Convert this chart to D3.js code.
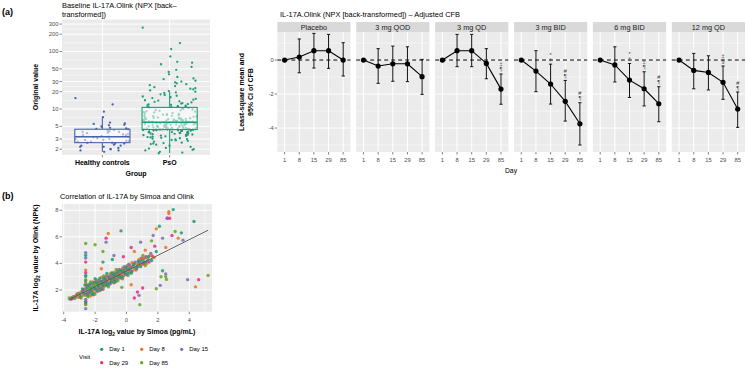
<!DOCTYPE html>
<html>
<head>
<meta charset="utf-8">
<script src="https://cdn.jsdelivr.net/npm/d3@7"></script>
<style>
  body { margin: 0; background: #fff; }
  svg { font-family: "Liberation Sans", Arial, sans-serif; }
  svg text { fill: #000; }
</style>
</head>
<body>
<div id="root"></div>
<script>
// ---- panel (a) left: baseline values ----
var groupsA = ['Healthy controls', 'PsO'];
var ticksA = [2, 3, 5, 10, 20, 30, 50, 100, 200, 300];
var healthyValues = [15.5, 12.0, 9.0, 7.2, 5.8, 5.6, 5.5, 5.3, 5.2, 5.0, 4.9, 4.7, 4.6, 4.5, 4.4, 4.3,
  4.2, 4.1, 4.0, 4.0, 3.9, 3.8, 3.7, 3.6, 3.5, 3.5, 3.4, 3.3, 3.3, 3.2, 3.2, 3.1, 3.0, 3.0, 2.9,
  2.9, 2.8, 2.8, 2.7, 2.7, 2.6, 2.6, 2.5, 2.5, 2.4, 2.3, 2.3, 2.2, 2.2, 2.1, 2.0, 2.0, 1.9, 1.9, 1.8];
var psoValues = [260, 140, 110, 82, 66, 64, 60, 54, 48, 44, 40, 36, 34, 33, 31, 30, 29, 28, 27, 26,
  25, 24, 23, 22.5, 22, 21, 20.5, 20, 19.5, 19, 18, 17.5, 17, 16.5, 16, 15.5, 15, 14.5, 14.2, 14,
  13.6, 13.3, 13, 12.7, 12.4, 12.2, 12, 11.8, 11.6, 11.4, 11.2, 11.1, 11, 10.9, 10.8,
  10.6, 10.4, 10.2, 10, 9.8, 9.6, 9.5, 9.3, 9.1, 9, 8.8, 8.7, 8.5, 8.4, 8.2, 8.1, 8, 7.9, 7.8, 7.7,
  7.6, 7.5, 7.4, 7.3, 7.2, 7.1, 7, 6.95, 6.9, 6.85, 6.8, 6.75, 6.7, 6.65, 6.6, 6.55, 6.5, 6.45, 6.4,
  6.35, 6.3, 6.3, 6.25, 6.2, 6.2, 6.15, 6.1, 6.1, 6.05, 6.0, 6.0, 5.95, 5.95, 5.92, 5.9,
  5.85, 5.8, 5.8, 5.75, 5.7, 5.7, 5.65, 5.6, 5.6, 5.55, 5.5, 5.5, 5.45, 5.4, 5.4, 5.35, 5.3, 5.3,
  5.25, 5.2, 5.2, 5.15, 5.1, 5.1, 5.05, 5.0, 5.0, 4.95, 4.9, 4.9, 4.85, 4.8, 4.8, 4.75, 4.7, 4.7,
  4.65, 4.6, 4.6, 4.58, 4.55, 4.55, 4.52, 4.5, 4.5, 4.48, 4.46, 4.45, 4.44, 4.43, 4.42, 4.42, 4.41,
  4.41, 4.4, 4.38, 4.35, 4.32, 4.3, 4.27, 4.25, 4.22, 4.2, 4.15, 4.1, 4.05, 4.0, 3.97, 3.93, 3.9,
  3.85, 3.8, 3.78, 3.75, 3.7, 3.65, 3.6, 3.57, 3.55, 3.5, 3.45, 3.4, 3.35, 3.3, 3.25, 3.2, 3.15,
  3.1, 3.05, 3.0, 2.95, 2.9, 2.85, 2.8, 2.7, 2.6, 2.55, 2.5, 2.45, 2.4, 2.3, 2.2, 2.1, 2.05, 2.0,
  1.95, 1.9, 1.8, 1.75, 1.7];
var groupColors = ['#4561b0', '#1b9e77'];

// ---- panel (a) right: adjusted change from baseline ----
var facets = ['Placebo', '3 mg QOD', '3 mg QD', '3 mg BID', '6 mg BID', '12 mg QD'];
var days = ['1', '8', '15', '29', '85'];
var ticksF = [0, -2, -4];
var lsMeans = [
  [0, 0.18, 0.55, 0.55, 0],
  [0, -0.35, -0.22, -0.22, -0.98],
  [0, 0.55, 0.55, -0.2, -1.71],
  [0, -0.65, -1.41, -2.43, -3.75],
  [0, -0.29, -1.18, -1.69, -2.57],
  [0, -0.61, -0.73, -1.31, -2.88]
];
var ciLower = [
  [0, -0.75, -0.47, -0.49, -0.94],
  [0, -1.37, -1.25, -1.27, -2.02],
  [0, -0.39, -0.39, -1.1, -2.6],
  [0, -1.86, -2.59, -3.59, -5.0],
  [0, -1.29, -2.2, -2.7, -3.63],
  [0, -1.69, -1.76, -2.31, -3.96]
];
var ciUpper = [
  [0, 1.24, 1.57, 1.51, 1.02],
  [0, 0.67, 0.82, 0.78, 0.04],
  [0, 1.51, 1.51, 0.67, -0.82],
  [0, 0.55, -0.24, -1.2, -2.51],
  [0, 0.78, -0.2, -0.69, -1.57],
  [0, 0.39, 0.25, -0.35, -1.88]
];
var sigMarks = [
  ['', '', '', '', ''],
  ['', '', '', '', ''],
  ['', '', '', '', '‡¶'],
  ['', '', '*†', '#¶', '#¶'],
  ['', '', '*†', '‡¶', '#¶'],
  ['', '', '', '‡§', '#¶']
];

// ---- panel (b): Simoa vs Olink ----
var visits = ['Day 1', 'Day 8', 'Day 15', 'Day 29', 'Day 85'];
var visitColors = ['#1b9e77', '#e8731c', '#7570b3', '#e7298a', '#66a61e'];
var ticksBx = [-4, -2, 0, 2, 4];
var ticksBy = [2, 4, 6, 8];
var day1Points = [[-3.5,1.42],[-3.3,1.38],[-3.0,1.76],[-2.9,1.52],[-2.8,2.08],[-2.7,1.74],[-2.65,2.37],
  [-2.6,1.05],[-2.6,2.75],[-2.6,3.1],[-2.6,4.6],[-2.5,2.16],[-2.45,1.63],[-2.4,2.41],[-2.3,1.87],
  [-2.25,2.2],[-2.2,1.68],[-2.1,2.54],[-2.05,2.12],[-2.0,2.85],[-1.9,2.01],[-1.85,2.54],[-1.8,2.32],
  [-1.7,2.88],[-1.6,2.09],[-1.55,2.67],[-1.5,2.35],[-1.4,2.9],[-1.3,2.56],[-1.25,3.24],[-1.2,2.37],
  [-1.1,2.88],[-1.0,2.59],[-0.9,3.25],[-0.8,2.81],[-0.75,3.19],[-0.7,2.62],[-0.6,3.38],[-0.5,3.04],
  [-0.4,3.44],[-0.3,2.95],[-0.2,3.46],[-0.1,3.32],[0.0,3.73],[0.1,3.24],[0.2,3.65],[0.3,3.26],
  [0.45,3.9],[0.6,3.68],[0.75,4.17],[0.9,3.76],[1.05,4.2],[1.2,4.09],[1.4,4.51],[1.6,4.22],
  [2.98,8.05],[4.3,7.15],[2.1,6.8],[3.5,6.3],[-0.35,6.45],[1.9,4.9],[2.3,3.45],[-1.5,4.1],[-0.9,4.3]];
var day8Points = [[-3.4,1.5],[-3.1,1.45],[-2.85,1.9],[-2.75,1.6],[-2.6,0.95],[-2.6,2.45],[-2.6,3.5],
  [-2.55,2.2],[-2.5,1.7],[-2.35,2.3],[-2.3,1.55],[-2.2,2.05],[-2.15,2.6],[-2.05,1.8],[-1.95,2.4],
  [-1.9,2.75],[-1.8,2.0],[-1.75,2.55],[-1.65,2.3],[-1.6,2.95],[-1.5,2.15],[-1.45,2.7],[-1.35,2.45],
  [-1.3,3.05],[-1.2,2.6],[-1.15,2.85],[-1.05,3.2],[-0.95,2.7],[-0.9,3.0],[-0.8,3.35],[-0.7,2.85],
  [-0.65,3.15],[-0.55,3.5],[-0.45,3.0],[-0.35,3.3],[-0.25,3.65],[-0.15,3.15],[-0.05,3.45],[0.05,3.85],
  [0.15,3.35],[0.25,3.7],[0.35,4.05],[0.5,3.55],[0.65,3.95],[0.8,4.3],[0.95,3.9],[1.1,4.35],[1.3,4.0],
  [1.5,4.6],[1.75,4.45],[2.7,7.9],[2.7,7.75],[1.9,6.6],[-1.16,6.25],[3.3,5.9],[2.5,5.2],[4.4,2.24],
  [0.3,2.4],[-1.6,3.6],[1.2,5.0],[0.5,4.9]];
var day15Points = [[-3.55,1.3],[-3.25,1.55],[-2.95,1.6],[-2.8,1.85],[-2.6,0.6],[-2.6,1.3],[-2.6,2.1],
  [-2.6,4.4],[-2.6,4.8],[-2.55,1.75],[-2.45,2.25],[-2.35,1.95],[-2.25,2.5],[-2.15,1.75],[-2.1,2.3],
  [-2.0,2.05],[-1.9,2.6],[-1.8,2.2],[-1.7,2.7],[-1.65,2.0],[-1.55,2.45],[-1.45,2.85],[-1.4,2.3],
  [-1.3,2.75],[-1.2,3.0],[-1.1,2.5],[-1.0,3.05],[-0.95,2.8],[-0.85,3.1],[-0.75,2.7],[-0.65,3.25],
  [-0.55,2.95],[-0.45,3.55],[-0.35,3.1],[-0.25,3.35],[-0.15,3.75],[-0.05,3.2],[0.05,3.55],[0.15,3.95],
  [0.3,3.45],[0.4,3.8],[0.55,4.1],[0.7,3.75],[0.85,4.15],[1.0,4.0],[1.15,4.4],[1.35,4.2],[1.55,4.75],
  [2.6,7.4],[3.6,5.75],[2.5,3.2],[3.9,2.78],[2.15,2.35],[0.8,1.6],[-1.3,5.6],[1.7,6.1],[-0.8,4.6],
  [0.9,5.6],[2.3,5.9]];
var day29Points = [[-3.45,1.35],[-3.15,1.7],[-2.95,1.45],[-2.75,2.0],[-2.6,1.15],[-2.6,1.7],[-2.6,3.3],
  [-2.6,4.1],[-2.5,2.35],[-2.4,1.8],[-2.3,2.45],[-2.2,1.95],[-2.1,1.65],[-2.0,2.6],[-1.95,2.1],
  [-1.85,1.9],[-1.75,2.45],[-1.7,2.15],[-1.6,2.65],[-1.5,2.05],[-1.4,2.5],[-1.35,2.8],[-1.25,2.35],
  [-1.15,3.0],[-1.05,2.45],[-1.0,2.75],[-0.9,3.05],[-0.8,2.55],[-0.7,3.1],[-0.6,2.8],[-0.5,3.3],
  [-0.4,2.9],[-0.3,3.5],[-0.2,3.05],[-0.1,3.6],[0.0,3.15],[0.1,3.5],[0.2,3.85],[0.35,3.4],[0.5,3.95],
  [0.65,3.6],[0.8,4.05],[0.95,4.4],[1.1,3.95],[1.25,4.5],[1.45,4.1],[1.65,4.55],
  [2.6,7.4],[2.75,7.4],[-1.3,5.9],[4.6,2.78],[1.03,2.15],[0.5,1.4],[0.7,1.85],[2.9,6.1],[1.8,5.3],
  [-0.2,4.5],[0.3,5.2]];
var day85Points = [[-3.65,1.4],[-3.35,1.5],[-3.05,1.75],[-2.9,1.4],[-2.6,0.9],[-2.6,1.6],[-2.6,2.6],
  [-2.6,3.0],[-2.6,5.5],[-2.55,1.95],[-2.45,1.5],[-2.4,2.15],[-2.3,2.6],[-2.2,1.85],[-2.1,2.35],
  [-2.0,1.7],[-1.9,2.45],[-1.8,2.7],[-1.75,1.95],[-1.65,2.5],[-1.55,2.25],[-1.45,3.05],[-1.35,2.4],
  [-1.25,2.65],[-1.15,2.25],[-1.05,2.9],[-0.95,3.3],[-0.85,2.6],[-0.75,2.95],[-0.65,3.55],[-0.55,2.7],
  [-0.45,3.2],[-0.35,3.45],[-0.25,2.85],[-0.15,3.3],[-0.05,3.6],[0.1,3.1],[0.2,3.4],[0.35,3.7],
  [0.5,4.0],[0.6,3.5],[0.75,3.85],[0.9,4.25],[1.05,4.6],[1.2,3.85],[1.35,4.4],
  [5.2,3.1],[2.2,3.0],[2.55,2.8],[1.9,2.1],[0.85,0.9],[-2.0,5.4],[-1.5,4.9],[3.1,6.4],[1.6,5.7],
  [-0.3,2.2],[2.5,3.0]];
var visitPoints = [day1Points, day8Points, day15Points, day29Points, day85Points];
var fitIntercept = 3.43, fitSlope = 0.59, fitRange = [-3.7, 5.2];

var svg = d3.select('#root')
  .append('svg')
    .attr('width', 746)
    .attr('height', 370);

svg.append('rect').attr('width', 746).attr('height', 370).attr('fill', '#fff');

var TICK_COL = '#4d4d4d';

// grey panel + white grid lines
var drawPanel = (x0, y0, w, h, vMajor, vMinor, hMajor, hMinor) => {
  var g = svg.append('g');
  g.append('rect').attr('x', x0).attr('y', y0).attr('width', w).attr('height', h).attr('fill', '#ebebeb');
  var line = (list, sw, vertical) => {
    list.forEach(p => {
      if (vertical) {
        g.append('line').attr('x1', p).attr('x2', p).attr('y1', y0).attr('y2', y0 + h)
          .attr('stroke', '#fff').attr('stroke-width', sw);
      } else {
        g.append('line').attr('x1', x0).attr('x2', x0 + w).attr('y1', p).attr('y2', p)
          .attr('stroke', '#fff').attr('stroke-width', sw);
      }
    });
  };
  line(hMinor, 0.5, false);
  line(vMinor, 0.5, true);
  line(hMajor, 1, false);
  line(vMajor, 1, true);
  return g;
};

var yTicks = (scale, ticks, x, labels) => {
  ticks.forEach((t, i) => {
    svg.append('line').attr('x1', x - 2.5).attr('x2', x).attr('y1', scale(t)).attr('y2', scale(t))
      .attr('stroke', '#333').attr('stroke-width', 0.6);
    svg.append('text').attr('x', x - 3.5).attr('y', scale(t) + 2).attr('text-anchor', 'end')
      .attr('font-size', 5.8).style('fill', TICK_COL).text(labels ? labels[i] : t);
  });
};

// ================= (a) left =================
svg.append('text').attr('x', 2).attr('y', 15).attr('font-size', 9).attr('font-weight', 'bold').text('(a)');
svg.append('text').attr('x', 62).attr('y', 8).attr('font-size', 7.4).text('Baseline IL-17A.Olink (NPX [back–');
svg.append('text').attr('x', 62).attr('y', 17).attr('font-size', 7.4).text('transformed])');

var aTop = 19.5, aBottom = 155;
var yA = d3.scaleLog().domain([1.585, 360]).range([aBottom, aTop]);
var xA = d3.scalePoint().domain(groupsA).range([62, 210]).padding(0.6);
var stepA = xA.step();

var minorA = [];
for (var i = 0; i < ticksA.length - 1; i++) minorA.push(yA(Math.sqrt(ticksA[i] * ticksA[i + 1])));
drawPanel(62, aTop, 148, aBottom - aTop, groupsA.map(xA), [], ticksA.map(yA), minorA);
yTicks(yA, ticksA, 62);

[healthyValues, psoValues].forEach((vals, gi) => {
  var cx = xA(groupsA[gi]);
  var col = groupColors[gi];
  var sorted = vals.slice().sort(d3.ascending);
  var q1 = d3.quantile(sorted, 0.25), med = d3.quantile(sorted, 0.5), q3 = d3.quantile(sorted, 0.75);
  var iqr = q3 - q1;
  var hi = d3.max(sorted.filter(v => v <= q3 + 1.5 * iqr));
  var lo = d3.min(sorted.filter(v => v >= q1 - 1.5 * iqr));
  var bw = stepA * 0.82;
  var g = svg.append('g');
  g.append('line').attr('x1', cx).attr('x2', cx).attr('y1', yA(hi)).attr('y2', yA(q3))
    .attr('stroke', col).attr('stroke-width', 1.1);
  g.append('line').attr('x1', cx).attr('x2', cx).attr('y1', yA(lo)).attr('y2', yA(q1))
    .attr('stroke', col).attr('stroke-width', 1.1);
  // jittered points
  g.selectAll('circle').data(vals).enter().append('circle')
    .attr('cx', (d, k) => cx + (((k * 0.618034 + k * k * 0.0731) % 1) - 0.5) * 0.8 * stepA)
    .attr('cy', d => yA(d))
    .attr('r', 1.15)
    .attr('fill', col);
  g.append('rect').attr('x', cx - bw / 2).attr('y', yA(q3)).attr('width', bw).attr('height', yA(q1) - yA(q3))
    .attr('fill', '#fff').attr('fill-opacity', 0.55).attr('stroke', col).attr('stroke-width', 1.1);
  g.append('line').attr('x1', cx - bw / 2).attr('x2', cx + bw / 2).attr('y1', yA(med)).attr('y2', yA(med))
    .attr('stroke', col).attr('stroke-width', 1.6);
});

groupsA.forEach(gName => {
  svg.append('line').attr('x1', xA(gName)).attr('x2', xA(gName)).attr('y1', aBottom).attr('y2', aBottom + 2.5)
    .attr('stroke', '#333').attr('stroke-width', 0.6);
  svg.append('text').attr('x', xA(gName)).attr('y', 165).attr('text-anchor', 'middle')
    .attr('font-size', 7).attr('font-weight', 'bold').text(gName);
});
svg.append('text').attr('x', 136).attr('y', 176).attr('text-anchor', 'middle')
  .attr('font-size', 7).attr('font-weight', 'bold').text('Group');
svg.append('text').attr('transform', 'translate(38,87) rotate(-90)').attr('text-anchor', 'middle')
  .attr('font-size', 7).attr('font-weight', 'bold').text('Original value');

// ================= (a) right =================
svg.append('text').attr('x', 280).attr('y', 16.5).attr('font-size', 7.4)
  .text('IL-17A.Olink (NPX [back-transformed]) – Adjusted CFB');

var fTop = 32, fBottom = 152;
var xF = d3.scaleBand().domain(facets).range([277.3, 745]).paddingInner(0.072);
var yF = d3.scaleLinear().domain([-5.41, 1.65]).range([fBottom, fTop]);
var fw = xF.bandwidth();
var xDay = d3.scalePoint().domain(days).range([0, fw]).padding(0.5);

yTicks(yF, ticksF, 277.3, ['0', '-2', '-4']);

facets.forEach((name, fi) => {
  var x0 = xF(name);
  svg.append('rect').attr('x', x0).attr('y', 22).attr('width', fw).attr('height', fTop - 22).attr('fill', '#d9d9d9');
  svg.append('text').attr('x', x0 + fw / 2).attr('y', 29.7).attr('text-anchor', 'middle')
    .attr('font-size', 7.3).style('fill', '#1a1a1a').text(name);
  drawPanel(x0, fTop, fw, fBottom - fTop, days.map(d => x0 + xDay(d)), [],
    ticksF.map(yF), [1, -1, -3, -5].map(yF));

  var g = svg.append('g');
  g.append('line').attr('x1', x0).attr('x2', x0 + fw).attr('y1', yF(0)).attr('y2', yF(0))
    .attr('stroke', '#000').attr('stroke-width', 1).attr('stroke-dasharray', '4,3');

  days.forEach((d, di) => {
    var x = x0 + xDay(d);
    if (ciUpper[fi][di] !== ciLower[fi][di]) {
      g.append('line').attr('x1', x).attr('x2', x).attr('y1', yF(ciUpper[fi][di])).attr('y2', yF(ciLower[fi][di]))
        .attr('stroke', '#111').attr('stroke-width', 1);
      [ciUpper[fi][di], ciLower[fi][di]].forEach(v => {
        g.append('line').attr('x1', x - 1.6).attr('x2', x + 1.6).attr('y1', yF(v)).attr('y2', yF(v))
          .attr('stroke', '#111').attr('stroke-width', 1);
      });
    }
    Array.from(sigMarks[fi][di]).forEach((s, si, arr) => {
      g.append('text').attr('x', x).attr('y', yF(ciUpper[fi][di]) - 2.5 - (arr.length - 1 - si) * 5)
        .attr('text-anchor', 'middle').attr('font-size', 5.5).style('fill', '#333').text(s);
    });
    svg.append('line').attr('x1', x).attr('x2', x).attr('y1', fBottom).attr('y2', fBottom + 2.5)
      .attr('stroke', '#333').attr('stroke-width', 0.6);
    svg.append('text').attr('x', x).attr('y', 162).attr('text-anchor', 'middle')
      .attr('font-size', 5.8).style('fill', TICK_COL).text(d);
  });

  var line = d3.line().x((v, di) => x0 + xDay(days[di])).y(v => yF(v));
  g.append('path').attr('d', line(lsMeans[fi])).attr('fill', 'none').attr('stroke', '#000').attr('stroke-width', 1.1);
  g.selectAll('circle.m').data(lsMeans[fi]).enter().append('circle')
    .attr('cx', (v, di) => x0 + xDay(days[di])).attr('cy', v => yF(v)).attr('r', 2.6).attr('fill', '#000');
});

svg.append('text').attr('x', 511).attr('y', 173).attr('text-anchor', 'middle').attr('font-size', 6.8).text('Day');
var yTitle = svg.append('text').attr('transform', 'translate(246,92) rotate(-90)').attr('text-anchor', 'middle')
  .attr('font-size', 7).attr('font-weight', 'bold');
yTitle.append('tspan').attr('x', 0).attr('dy', -2).text('Least-square mean and');
yTitle.append('tspan').attr('x', 0).attr('dy', 9).text('95% CI of CFB');

// ================= (b) =================
svg.append('text').attr('x', 2).attr('y', 199).attr('font-size', 9).attr('font-weight', 'bold').text('(b)');
svg.append('text').attr('x', 60).attr('y', 199).attr('font-size', 7.4).text('Correlation of IL-17A by Simoa and Olink');

var bLeft = 62, bRight = 212, bTop = 204, bBottom = 311.7;
var xB = d3.scaleLinear().domain([-4.11, 5.45]).range([bLeft, bRight]);
var yB = d3.scaleLinear().domain([0.37, 8.47]).range([bBottom, bTop]);
drawPanel(bLeft, bTop, bRight - bLeft, bBottom - bTop, ticksBx.map(xB), [-3, -1, 1, 3, 5].map(xB),
  ticksBy.map(yB), [1, 3, 5, 7].map(yB));
yTicks(yB, ticksBy, bLeft);
ticksBx.forEach(t => {
  svg.append('line').attr('x1', xB(t)).attr('x2', xB(t)).attr('y1', bBottom).attr('y2', bBottom + 2.5)
    .attr('stroke', '#333').attr('stroke-width', 0.6);
  svg.append('text').attr('x', xB(t)).attr('y', 322).attr('text-anchor', 'middle')
    .attr('font-size', 5.8).style('fill', TICK_COL).text(t);
});

// interleave visits so colours mix like the original draw order
var allPts = [];
visitPoints.forEach((pts, vi) => pts.forEach((p, k) => allPts.push({ x: p[0], y: p[1], v: vi, k: k })));
allPts.sort((a, b) => a.k - b.k || a.v - b.v);
svg.append('g').selectAll('circle').data(allPts).enter().append('circle')
  .attr('cx', d => xB(d.x)).attr('cy', d => yB(d.y)).attr('r', 1.7)
  .attr('fill', d => visitColors[d.v]).attr('fill-opacity', 0.85);

svg.append('line')
  .attr('x1', xB(fitRange[0])).attr('y1', yB(fitIntercept + fitSlope * fitRange[0]))
  .attr('x2', xB(fitRange[1])).attr('y2', yB(fitIntercept + fitSlope * fitRange[1]))
  .attr('stroke', '#555').attr('stroke-width', 0.9);

var xt = svg.append('text').attr('x', 137).attr('y', 334).attr('text-anchor', 'middle')
  .attr('font-size', 7).attr('font-weight', 'bold');
xt.append('tspan').text('IL-17A log');
xt.append('tspan').attr('font-size', 4.8).attr('dy', 1.6).text('2');
xt.append('tspan').attr('dy', -1.6).text(' value by Simoa (pg/mL)');

var yt = svg.append('text').attr('transform', 'translate(38,258) rotate(-90)').attr('text-anchor', 'middle')
  .attr('font-size', 7).attr('font-weight', 'bold');
yt.append('tspan').text('IL-17A log');
yt.append('tspan').attr('font-size', 4.8).attr('dy', 1.6).text('2');
yt.append('tspan').attr('dy', -1.6).text(' value by Olink (NPK)');

// legend
svg.append('text').attr('x', 79).attr('y', 358.5).attr('font-size', 6).text('Visit');
visits.forEach((v, i) => {
  var col = i % 3, row = Math.floor(i / 3);
  var lx = 101.7 + col * 40, ly = 349.3 + row * 13.4;
  svg.append('circle').attr('cx', lx).attr('cy', ly).attr('r', 1.6).attr('fill', visitColors[i]);
  svg.append('text').attr('x', lx + 7.5).attr('y', ly + 2.1).attr('font-size', 6).text(v);
});
</script>
</body>
</html>
